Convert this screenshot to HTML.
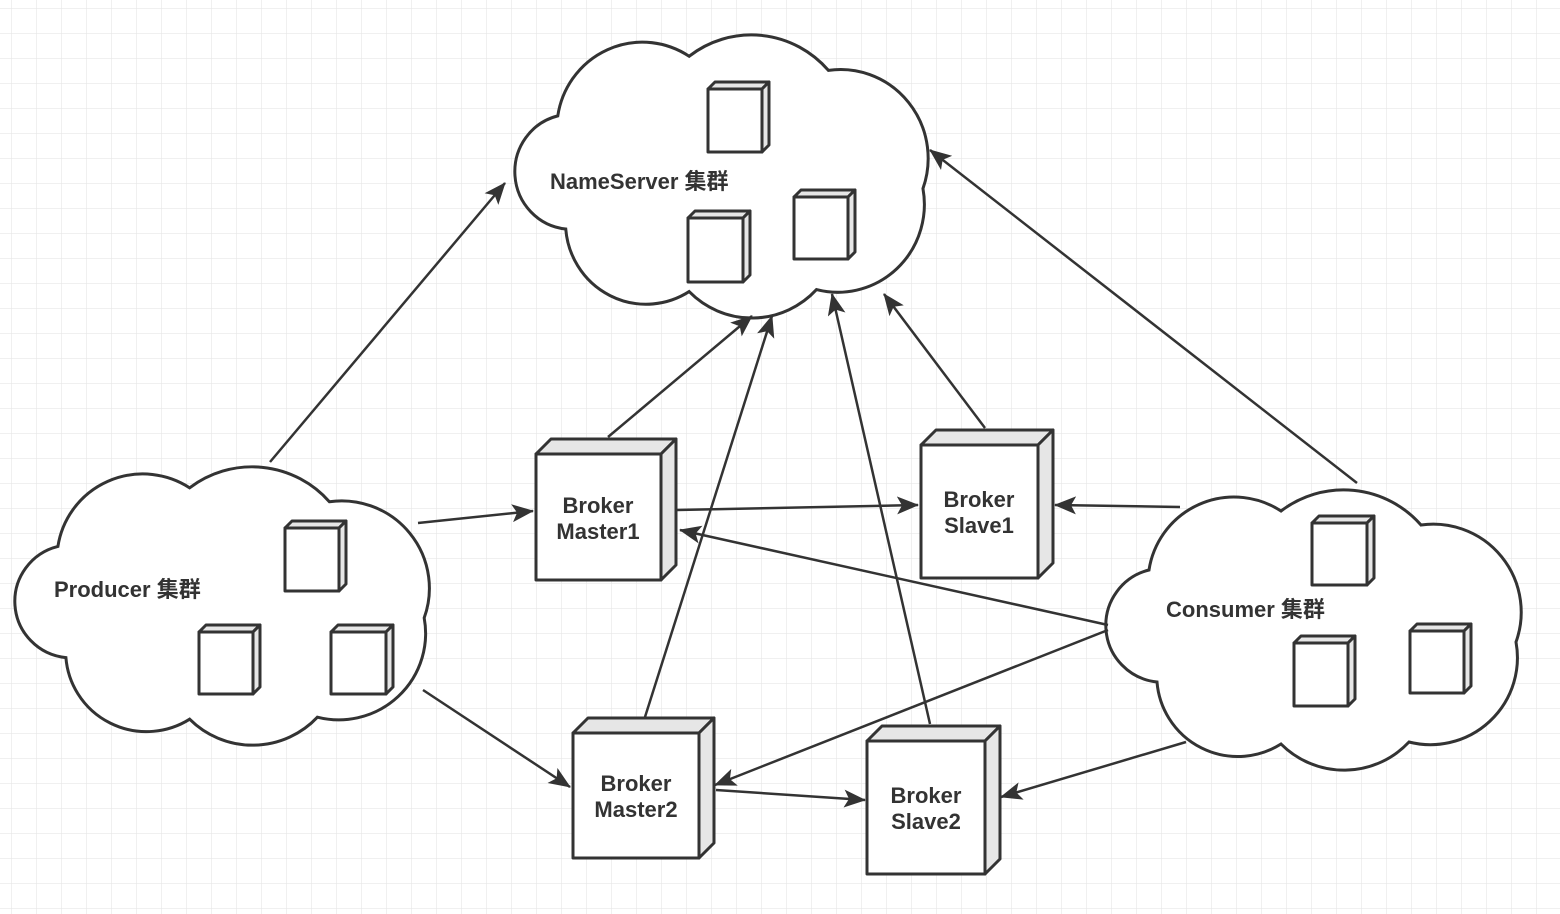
<!DOCTYPE html>
<html><head><meta charset="utf-8"><style>
html,body{margin:0;padding:0;background:#fff}
svg{display:block}
text{font-family:"Liberation Sans","Noto Sans CJK SC",sans-serif;font-weight:bold;font-size:22px;fill:#333}
</style></head><body>
<svg width="1560" height="914" viewBox="0 0 1560 914" xmlns="http://www.w3.org/2000/svg">
<defs>
<pattern id="g" x="11" y="8" width="25" height="25" patternUnits="userSpaceOnUse">
<path d="M0 0H25M0 0V25" stroke="#e6e6e6" stroke-width="1.2" fill="none"/>
</pattern>
<marker id="a" viewBox="0 0 22 18" refX="21" refY="9" markerWidth="22" markerHeight="18" markerUnits="userSpaceOnUse" orient="auto">
<path d="M0 0L22 9L0 18L5 9Z" fill="#333"/>
</marker>
<path id="cl" d="M41,85 A86,86 0 0 1 173,26 A103,103 0 0 1 313,40 A88,88 0 0 1 408,157 A87,87 0 0 1 301,257 A89,89 0 0 1 173,259 A81,81 0 0 1 49,197 A57,57 0 0 1 41,85 Z"/>
</defs>
<rect width="1560" height="914" fill="url(#g)"/>

<g fill="#fff" stroke="#333" stroke-width="3">
<use href="#cl" transform="translate(517,30) scale(0.995,1.01)"/>
<use href="#cl" transform="translate(17,462) scale(0.998,0.993)"/>
<use href="#cl" transform="translate(1108,485)"/>
</g>

<g stroke="#333" stroke-width="2.5" fill="none" marker-end="url(#a)">
<line x1="270" y1="462" x2="505" y2="183"/>
<line x1="608" y1="437" x2="752" y2="316"/>
<line x1="645" y1="717" x2="772" y2="316"/>
<line x1="930" y1="724" x2="832" y2="294"/>
<line x1="985" y1="428" x2="884" y2="294"/>
<line x1="1357" y1="483" x2="930" y2="150"/>
<line x1="418" y1="523" x2="533" y2="511"/>
<line x1="677" y1="510" x2="918" y2="505"/>
<line x1="1180" y1="507" x2="1055" y2="505"/>
<line x1="1108" y1="625" x2="680" y2="530"/>
<line x1="1108" y1="630" x2="715" y2="785"/>
<line x1="423" y1="690" x2="570" y2="787"/>
<line x1="716" y1="790" x2="865" y2="800"/>
<line x1="1186" y1="742" x2="1001" y2="797"/>
</g>

<g stroke="#333" stroke-width="3" stroke-linejoin="round">
<polygon points="708,89 715,82 769,82 762,89" fill="#e6e6e6"/><polygon points="762,89 769,82 769,145 762,152" fill="#e6e6e6"/><rect x="708" y="89" width="54" height="63" fill="#fff"/>
<polygon points="794,197 801,190 855,190 848,197" fill="#e6e6e6"/><polygon points="848,197 855,190 855,252 848,259" fill="#e6e6e6"/><rect x="794" y="197" width="54" height="62" fill="#fff"/>
<polygon points="688,218 695,211 750,211 743,218" fill="#e6e6e6"/><polygon points="743,218 750,211 750,275 743,282" fill="#e6e6e6"/><rect x="688" y="218" width="55" height="64" fill="#fff"/>

<polygon points="285,528 292,521 346,521 339,528" fill="#e6e6e6"/><polygon points="339,528 346,521 346,584 339,591" fill="#e6e6e6"/><rect x="285" y="528" width="54" height="63" fill="#fff"/>
<polygon points="199,632 206,625 260,625 253,632" fill="#e6e6e6"/><polygon points="253,632 260,625 260,687 253,694" fill="#e6e6e6"/><rect x="199" y="632" width="54" height="62" fill="#fff"/>
<polygon points="331,632 338,625 393,625 386,632" fill="#e6e6e6"/><polygon points="386,632 393,625 393,687 386,694" fill="#e6e6e6"/><rect x="331" y="632" width="55" height="62" fill="#fff"/>

<polygon points="1312,523 1319,516 1374,516 1367,523" fill="#e6e6e6"/><polygon points="1367,523 1374,516 1374,578 1367,585" fill="#e6e6e6"/><rect x="1312" y="523" width="55" height="62" fill="#fff"/>
<polygon points="1294,643 1301,636 1355,636 1348,643" fill="#e6e6e6"/><polygon points="1348,643 1355,636 1355,699 1348,706" fill="#e6e6e6"/><rect x="1294" y="643" width="54" height="63" fill="#fff"/>
<polygon points="1410,631 1417,624 1471,624 1464,631" fill="#e6e6e6"/><polygon points="1464,631 1471,624 1471,686 1464,693" fill="#e6e6e6"/><rect x="1410" y="631" width="54" height="62" fill="#fff"/>

<polygon points="536,454 551,439 676,439 661,454" fill="#e6e6e6"/><polygon points="661,454 676,439 676,565 661,580" fill="#e6e6e6"/><rect x="536" y="454" width="125" height="126" fill="#fff"/>
<polygon points="921,445 936,430 1053,430 1038,445" fill="#e6e6e6"/><polygon points="1038,445 1053,430 1053,563 1038,578" fill="#e6e6e6"/><rect x="921" y="445" width="117" height="133" fill="#fff"/>
<polygon points="573,733 588,718 714,718 699,733" fill="#e6e6e6"/><polygon points="699,733 714,718 714,843 699,858" fill="#e6e6e6"/><rect x="573" y="733" width="126" height="125" fill="#fff"/>
<polygon points="867,741 882,726 1000,726 985,741" fill="#e6e6e6"/><polygon points="985,741 1000,726 1000,859 985,874" fill="#e6e6e6"/><rect x="867" y="741" width="118" height="133" fill="#fff"/>
</g>

<text x="550" y="189">NameServer 集群</text>
<text x="54" y="597">Producer 集群</text>
<text x="1166" y="617">Consumer 集群</text>
<g text-anchor="middle">
<text x="598" y="513">Broker</text><text x="598" y="539">Master1</text>
<text x="979" y="507">Broker</text><text x="979" y="533">Slave1</text>
<text x="636" y="791">Broker</text><text x="636" y="817">Master2</text>
<text x="926" y="803">Broker</text><text x="926" y="829">Slave2</text>
</g>
</svg>
</body></html>
